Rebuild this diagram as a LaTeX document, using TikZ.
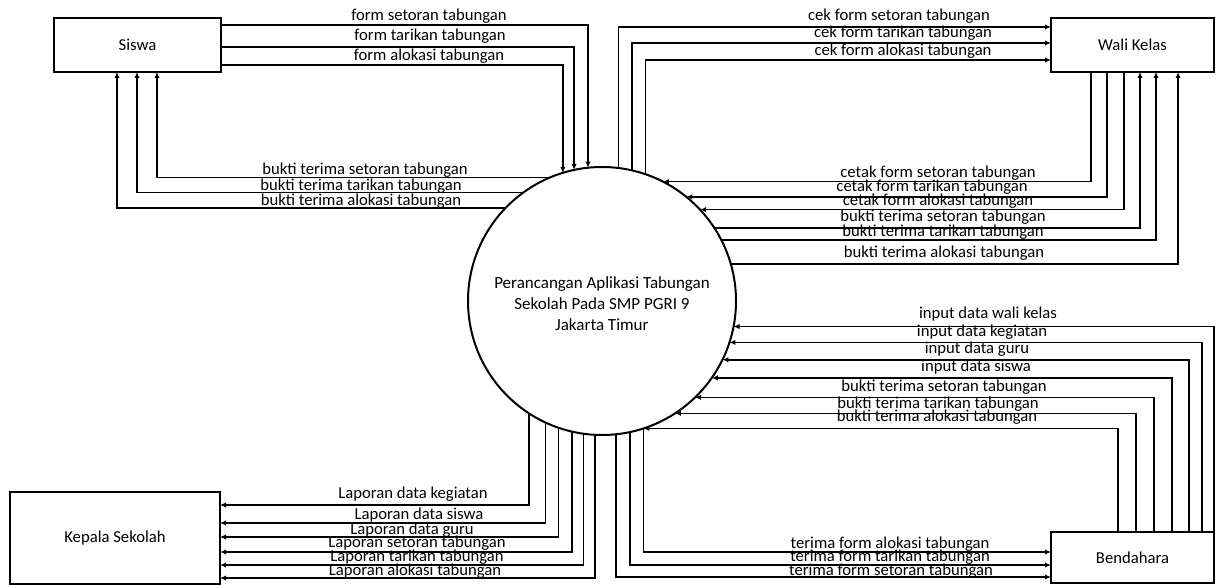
\documentclass[tikz,border=0pt]{standalone}
\usepackage{fontspec}
\setmainfont{Carlito}
\usetikzlibrary{arrows.meta}

\begin{document}
\begin{tikzpicture}[
    x=.6pt,
    y=-.6pt,
    entity/.style={
      draw,
      line width=1.2pt,
      inner sep=0,
      outer sep=0,
      align=center,
      font=\fontsize{10}{12}\selectfont,
    },
    process/.style={
      draw,
      circle,
      line width=1.2pt,
      minimum size=160.8pt,
      inner sep=0,
      outer sep=0,
    },
    processtext/.style={
      inner sep=0,
      align=center,
      font=\fontsize{10.2}{12.6}\selectfont,
    },
    flow/.style={
      line width=1pt,
      -{Latex[length=3.6pt,width=3.2pt]},
    },
    flowlabel/.style={
      inner sep=0,
      anchor=mid,
      font=\fontsize{10}{12}\selectfont,
    },
  ]
    \newcommand\flowtext[4]{%
      \node[flowlabel] (#1) at (#2, #3) {#4};
    }

    \useasboundingbox (0,0) rectangle (1216,585);

    \node[entity,minimum width=100.2pt,minimum height=32.4pt] (siswa) at (137.5,45) {Siswa};
    \node[entity,minimum width=97.8pt,minimum height=32.4pt] (walikelas) at (1132.5,45) {Wali Kelas};
    \node[entity,minimum width=97.8pt,minimum height=30.6pt] (bendahara) at (1132.5,557.5) {Bendahara};
    \node[entity,minimum width=126pt,minimum height=55.2pt] (kepsek) at (115,538) {Kepala Sekolah};
    \node[process] (aplikasi) at (602,301) {};
    \node[processtext] (judul) at (602,304)
      {Perancangan Aplikasi Tabungan\\Sekolah Pada SMP PGRI 9\\Jakarta Timur};

    % siswa
    \draw[flow] (siswa.east |- 0,25) -| (aplikasi.96.4);
    \draw[flow] (siswa.east |- 0,47) -| (aplikasi.102.5);
    \draw[flow] (siswa.east |- 0,65) -| (aplikasi.107.8);
    \draw[flow] (aplikasi.113.4) -| (siswa.south -| 157,0);
    \draw[flow] (aplikasi.126.3) -| (siswa.south -| 137,0);
    \draw[flow] (aplikasi.136.6) -| (siswa.south -| 117,0);

    \flowtext{fsetor}{429}{17}{form setoran tabungan}
    \flowtext{ftarik}{430}{37}{form tarikan tabungan}
    \flowtext{falok}{429}{57}{form alokasi tabungan}
    \flowtext{bsetor}{365}{171}{bukti terima setoran tabungan}
    \flowtext{btarik}{361}{187}{bukti terima tarikan tabungan}
    \flowtext{balok}{361}{202}{bukti terima alokasi tabungan}

    % wali kelas
    \draw[flow] (aplikasi.83.1) |- (walikelas.west |- 0,27);
    \draw[flow] (aplikasi.77.5) |- (walikelas.west |- 0,43);
    \draw[flow] (aplikasi.71.7) |- (walikelas.west |- 0,60);
    \draw[flow] (walikelas.south -| 1091,0) |- (aplikasi.63.6);
    \draw[flow] (walikelas.south -| 1107,0) |- (aplikasi.51.6);
    \draw[flow] (walikelas.south -| 1124,0) |- (aplikasi.43.4);
    \draw[flow] (aplikasi.33.5) -| (walikelas.south -| 1140,0);
    \draw[flow] (aplikasi.27.1) -| (walikelas.south -| 1156,0);
    \draw[flow] (aplikasi.16.9) -| (walikelas.south -| 1178,0);

    \flowtext{cekset}{899}{17}{cek form setoran tabungan}
    \flowtext{cektar}{903}{34}{cek form tarikan tabungan}
    \flowtext{cekalo}{903}{52}{cek form alokasi tabungan}
    \flowtext{ctkset}{938}{174}{cetak form setoran tabungan}
    \flowtext{ctktar}{932}{188}{cetak form tarikan tabungan}
    \flowtext{ctkalo}{938}{202}{cetak form alokasi tabungan}
    \flowtext{wbset}{943}{218}{bukti terima setoran tabungan}
    \flowtext{wbtar}{943}{233}{bukti terima tarikan tabungan}
    \flowtext{wbalo}{944}{254}{bukti terima alokasi tabungan}

    % bendahara
    \draw[flow] (bendahara.north east) |- (aplikasi.349.2);
    \draw[flow] (bendahara.north -| 1202,0) |- (aplikasi.342.2);
    \draw[flow] (bendahara.north -| 1189,0) |- (aplikasi.334.4);
    \draw[flow] (bendahara.north -| 1172,0) |- (aplikasi.325.5);
    \draw[flow] (bendahara.north -| 1154,0) |- (aplikasi.314.2);
    \draw[flow] (bendahara.north -| 1136,0) |- (aplikasi.303.3);
    \draw[flow] (bendahara.north -| 1118,0) |- (aplikasi.288.6);
    \draw[flow] (aplikasi.288.3) |- (bendahara.west |- 0,552);
    \draw[flow] (aplikasi.282.5) |- (bendahara.west |- 0,565);
    \draw[flow] (aplikasi.276.9) |- (bendahara.west |- 0,577);

    \flowtext{inwali}{988}{315}{input data wali kelas}
    \flowtext{inkeg}{982}{333}{input data kegiatan}
    \flowtext{inguru}{977}{350}{input data guru}
    \flowtext{insiswa}{976}{368}{input data siswa}
    \flowtext{bbset}{944}{388}{bukti terima setoran tabungan}
    \flowtext{bbtar}{938}{405}{bukti terima tarikan tabungan}
    \flowtext{bbalo}{937}{418}{bukti terima alokasi tabungan}
    \flowtext{tfalo}{890}{545}{terima form alokasi tabungan}
    \flowtext{tftar}{890}{558}{terima form tarikan tabungan}
    \flowtext{tfset}{891}{572}{terima form setoran tabungan}

    % kepala sekolah
    \draw[flow] (aplikasi.237) |- (kepsek.east |- 0,505);
    \draw[flow] (aplikasi.245.8) |- (kepsek.east |- 0,523);
    \draw[flow] (aplikasi.251.3) |- (kepsek.east |- 0,537);
    \draw[flow] (aplikasi.257.5) |- (kepsek.east |- 0,552);
    \draw[flow] (aplikasi.262.3) |- (kepsek.east |- 0,565);
    \draw[flow] (aplikasi.267) |- (kepsek.east |- 0,578);

    \flowtext{lapkeg}{413}{495}{Laporan data kegiatan}
    \flowtext{lapsis}{419}{516}{Laporan data siswa}
    \flowtext{lapgur}{412}{531}{Laporan data guru}
    \flowtext{lapset}{417}{544}{Laporan setoran tabungan}
    \flowtext{laptar}{417}{558}{Laporan tarikan tabungan}
    \flowtext{lapalo}{415}{572}{Laporan alokasi tabungan}
  \end{tikzpicture}
\end{document}
